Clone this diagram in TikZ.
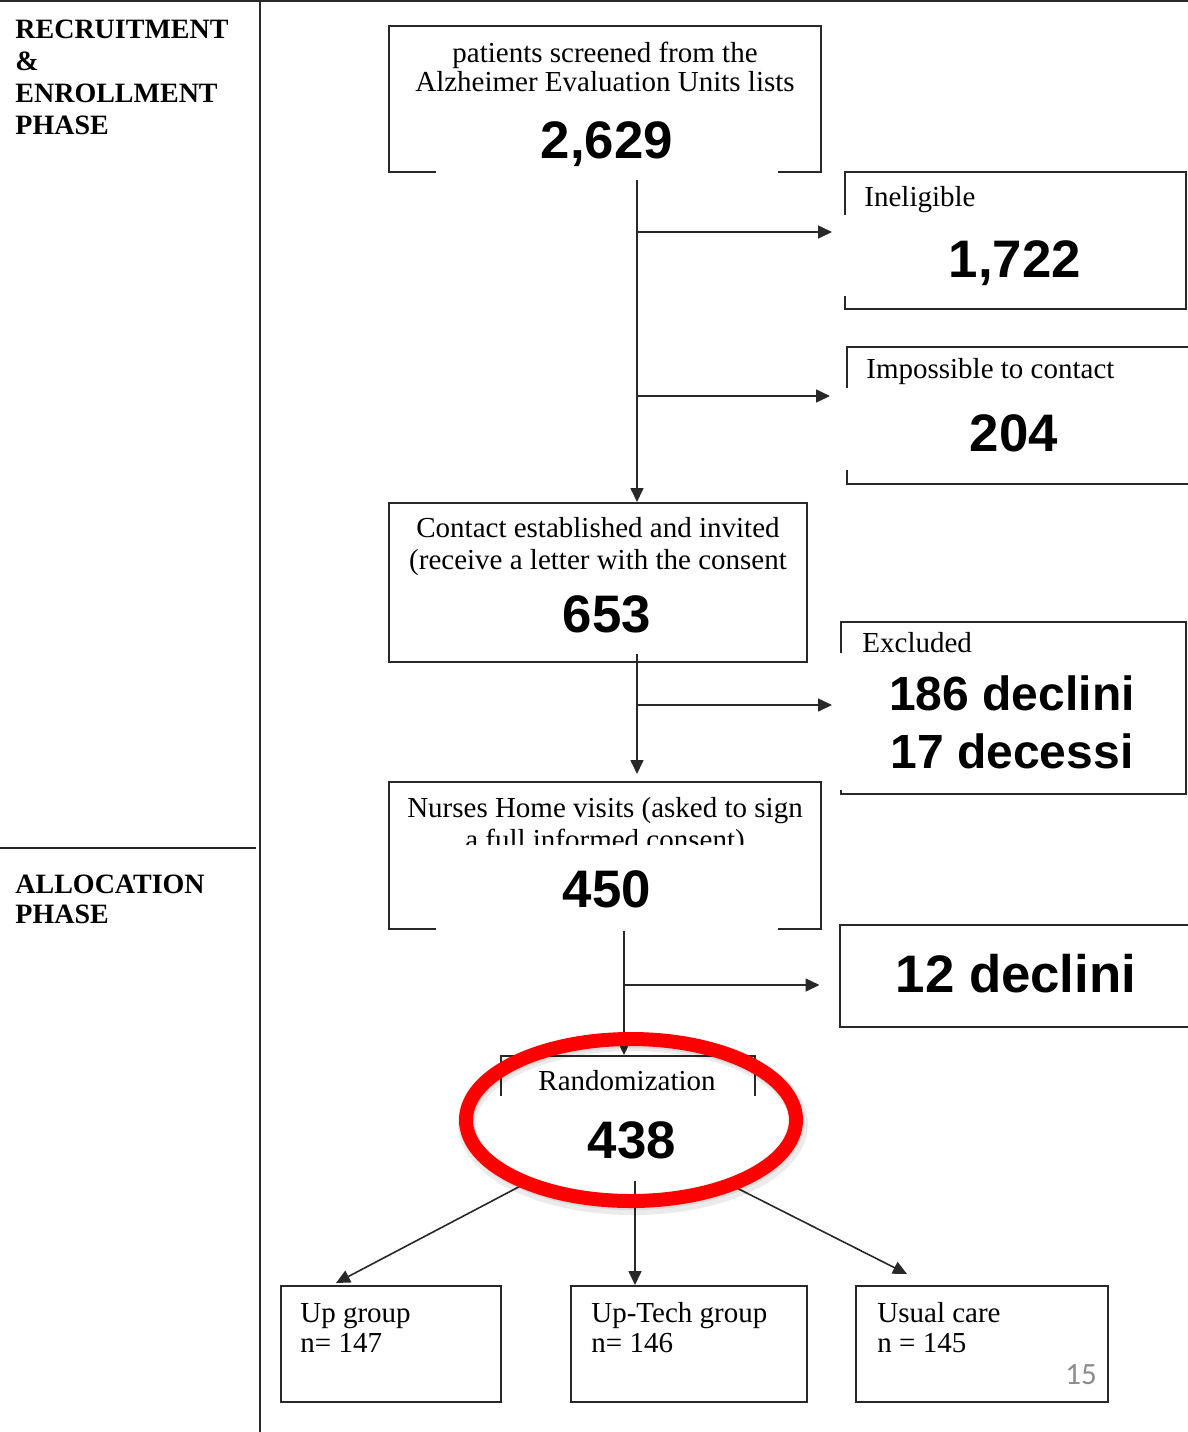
\documentclass[tikz,border=0pt]{standalone}
\usepackage{fontspec}
\setmainfont{Liberation Serif}
\newfontfamily\numfont{Liberation Sans}
\newfontfamily\pagefont{Carlito}
\usetikzlibrary{arrows.meta,calc}
\definecolor{ink}{RGB}{40,40,40}
\definecolor{pagegray}{RGB}{140,140,140}
\definecolor{circred}{RGB}{255,0,0}
\begin{document}
\begin{tikzpicture}[x=0.5pt,y=-0.5pt,
  box/.style={draw=ink, line width=1pt, inner sep=0pt},
  patch/.style={fill=white, draw=none, inner sep=0pt},
  txt/.style={font=\fontsize{14.5}{16}\selectfont, inner sep=0pt},
  head/.style={font=\fontsize{14}{16}\selectfont\bfseries, inner sep=0pt, align=left, anchor=base west},
  num/.style={font=\fontsize{26.4}{30}\selectfont\numfont\bfseries, inner sep=0pt, anchor=base},
  conn/.style={line width=0.8pt, draw=ink},
  arr/.style={conn, -{Triangle[length=7pt,width=6.5pt]}},
  rulerline/.style={line width=1.1pt, draw=ink}
]
\useasboundingbox (0,0) rectangle (1188,1432);
\fill[white] (0,0) rectangle (1188,1432);

% phase dividers
\draw[rulerline] (0,1) -- (1188,1);
\draw[rulerline] (260,0) -- (260,1432);
\draw[rulerline] (0,848) -- (256,848);
\node[head] (hrec) at (15,134) {RECRUITMENT\\\&\\ENROLLMENT\\PHASE};
\node[head, font=\fontsize{14}{15}\selectfont\bfseries] (halloc) at (15,923) {ALLOCATION\\PHASE};

% boxes
\node[box, minimum width=216pt, minimum height=73pt] (screen) at (605,99) {};
\node[box, minimum width=170.5pt, minimum height=68.5pt] (inel) at (1015.5,240.5) {};
\node[box, minimum width=176.5pt, minimum height=68.5pt] (imposs) at (1023.5,415.5) {};
\node[box, minimum width=209pt, minimum height=79.5pt] (contact) at (598,582.5) {};
\node[box, minimum width=172.5pt, minimum height=86pt] (excl) at (1013.5,708) {};
\node[box, minimum width=216pt, minimum height=73.5pt] (nurse) at (605,855.5) {};
\node[box, minimum width=177pt, minimum height=51pt] (decl) at (1016.5,975.5) {};
\node[box, minimum width=127pt, minimum height=52pt] (rand) at (628,1108) {};
\node[box, minimum width=110pt, minimum height=58pt] (up) at (391,1344) {};
\node[box, minimum width=118pt, minimum height=58pt] (uptech) at (689,1344) {};
\node[box, minimum width=126pt, minimum height=58pt] (usual) at (982,1344) {};

% texts (base anchor of a multi-line node = last line)
\node[txt, align=center, anchor=base, font=\fontsize{14.5}{14.5}\selectfont] (screenT) at (605,91) {patients screened from the\\Alzheimer Evaluation Units lists};
\node[txt, anchor=base west] (inelT) at (864,206) {Ineligible};
\node[txt, anchor=base west] (impossT) at (866,378) {Impossible to contact};
\node[txt, align=center, anchor=base] (contactT) at (598,569) {Contact established and invited\\(receive a letter with the consent};
\node[txt, anchor=base west] (exclT) at (862,652) {Excluded};
\node[txt, align=center, anchor=base] (nurseT) at (605,849) {Nurses Home visits (asked to sign\\a full informed consent)};
\node[txt, anchor=base] (randT) at (627,1090) {Randomization};
\node[txt, align=left, anchor=base west, font=\fontsize{14.5}{15}\selectfont] (upT) at (300,1352) {Up group\\n= 147};
\node[txt, align=left, anchor=base west, font=\fontsize{14.5}{15}\selectfont] (uptechT) at (591,1352) {Up-Tech group\\n= 146};
\node[txt, align=left, anchor=base west, font=\fontsize{14.5}{15}\selectfont] (usualT) at (877,1352) {Usual care\\n = 145};

% white patches of the number fields
\node[patch, minimum width=171pt, minimum height=40pt] (screenP) at (607,140) {};
\node[patch, minimum width=170pt, minimum height=40.5pt] (inelP) at (1010,255.5) {};
\node[patch, minimum width=170pt, minimum height=41pt] (impossP) at (1010,429) {};
\node[patch, minimum width=172pt, minimum height=68.5pt] (exclP) at (1008,721.5) {};
\node[patch, minimum width=171pt, minimum height=43pt] (nurseP) at (607,888) {};
\node[patch, minimum width=133.5pt, minimum height=42.5pt] (randP) at (628.5,1138.5) {};

% numbers
\node[num] (screenN) at (607,158) {2,629};
\node[num] (inelN) at (1015,277) {1,722};
\node[num] (impossN) at (1014,451) {204};
\node[num] (contactN) at (607,632) {653};
\node[num, anchor=center, align=center, font=\fontsize{24}{29}\selectfont\numfont\bfseries] (exclN) at (1012,722) {186 declini\\17 decessi};
\node[num] (nurseN) at (607,907) {450};
\node[num] (declN) at (1016,992) {12 declini};
\node[num] (randN) at (632,1158) {438};
\node[font=\fontsize{15.5}{17}\selectfont\pagefont, text=pagegray, inner sep=0pt, anchor=base] (pageno) at (1081,1384) {15};

% connectors
\coordinate (screenOut) at (637,180);
\coordinate (j1) at (637,232);
\coordinate (j2) at (637,396);
\draw[arr] (screenOut) -- (screenOut |- contact.north);
\draw[arr, shorten >=6pt] (j1) -- (j1 -| inel.west);
\draw[arr, shorten >=8pt] (j2) -- (j2 -| imposs.west);

\coordinate (contactOut) at (637,654);
\coordinate (j3) at (637,705);
\draw[arr, shorten >=3.5pt] (contactOut) -- (contactOut |- nurse.north);
\draw[arr, shorten >=4pt] (j3) -- (j3 -| excl.west);

\coordinate (nurseOut) at (624,931);
\coordinate (j4) at (624,985);
\draw[arr] (nurseOut) -- (nurseOut |- rand.north);
\draw[arr, shorten >=9.5pt] (j4) -- (j4 -| decl.west);

\coordinate (randOut) at (635,1181);
\coordinate (randL) at (530,1181);
\coordinate (randR) at (723,1181);
\draw[arr] (randOut) -- (randOut |- uptech.north);
\draw[arr] (randL) -- ($(up.north west)+(56,-2)$);
\draw[arr] (randR) -- ($(usual.north west)+(52,-11)$);

% red highlight ellipse with soft shadow
\draw[black, opacity=0.08, line width=9pt] (633,1124) ellipse [x radius=166, y radius=82];
\draw[black, opacity=0.08, line width=7pt] (632,1122) ellipse [x radius=165, y radius=81];
\draw[circred, line width=7pt] (631,1120) ellipse [x radius=165, y radius=81];
\end{tikzpicture}
\end{document}
